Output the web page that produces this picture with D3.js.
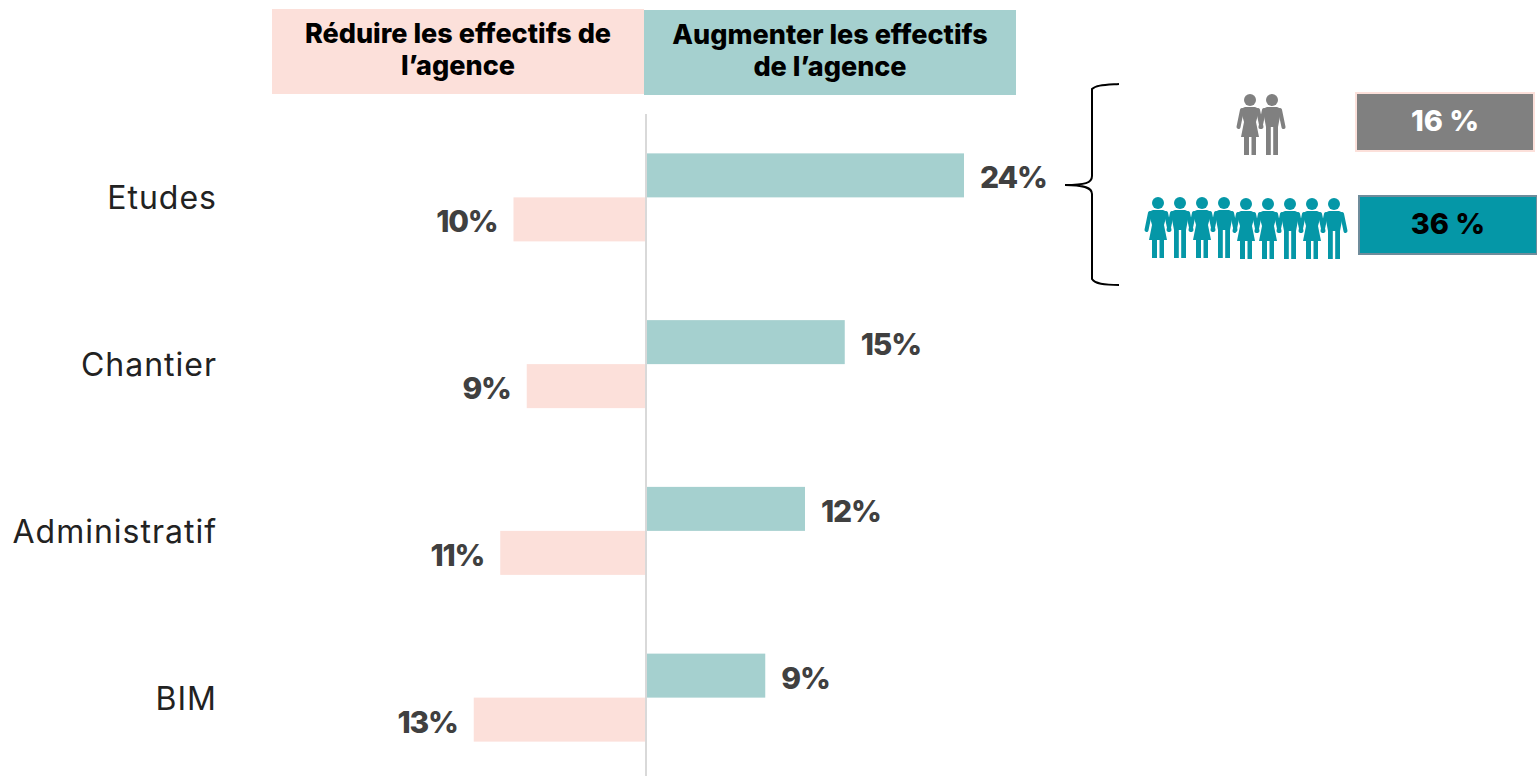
<!DOCTYPE html>
<html>
<head>
<meta charset="utf-8">
<script src="https://cdn.jsdelivr.net/npm/d3@7/dist/d3.min.js"></script>
<style>
  html, body { margin: 0; padding: 0; background: #fff; overflow: hidden; }
  text { font-family: Inter, "Noto Sans", sans-serif; }
</style>
</head>
<body>
<svg id="chart" width="1537" height="776"></svg>
<script>
const categories = ["Etudes", "Chantier", "Administratif", "BIM"]
const increase = [24, 15, 12, 9]
const reduce = [10, 9, 11, 13]
const headerLeft = ["Réduire les effectifs de", "l’agence"]
const headerRight = ["Augmenter les effectifs", "de l’agence"]
const couple = ["f", "m"]
const group = ["f", "m", "f", "m", "f", "f", "m", "f", "m"]
const summary = ["16 %", "36 %"]

const pink = "#fce0da", teal = "#a5d0cf", grey = "#808080", deep = "#0597a7", ink = "#404040"

const svg = d3.select("#chart")

// scales: 13.25 px per percentage point either side of the axis
const x = d3.scaleLinear().domain([0, 24]).range([646, 964])
const y = d3.scaleBand().domain(categories).range([114, 781]).paddingInner(0).paddingOuter(0)
const inner = d3.scaleBand().domain(["up", "down"]).range([0, 88])
const offset = (y.bandwidth() - 88) / 2

// header boxes
const headers = [
  {lines: headerLeft, x: 272, y: 9, w: 372, fill: pink},
  {lines: headerRight, x: 644, y: 10, w: 372, fill: teal}
]
headers.forEach(h => {
  svg.append("rect").attr("x", h.x).attr("y", h.y).attr("width", h.w).attr("height", 85).attr("fill", h.fill)
  svg.selectAll(null).data(h.lines).join("text")
    .attr("x", h.x + h.w / 2)
    .attr("y", (d, i) => h.y + 34 + i * 32)
    .attr("text-anchor", "middle")
    .attr("font-size", 27).attr("font-weight", 800).attr("fill", "#000")
    .text(d => d)
})

// bars
svg.selectAll(".up").data(categories).join("rect").attr("class", "up")
  .attr("x", x(0))
  .attr("y", d => y(d) + offset + inner("up"))
  .attr("width", (d, i) => x(increase[i]) - x(0))
  .attr("height", inner.bandwidth())
  .attr("fill", teal)

svg.selectAll(".down").data(categories).join("rect").attr("class", "down")
  .attr("x", (d, i) => x(-reduce[i]))
  .attr("y", d => y(d) + offset + inner("down"))
  .attr("width", (d, i) => x(0) - x(-reduce[i]))
  .attr("height", inner.bandwidth())
  .attr("fill", pink)

// centre axis
svg.append("line").attr("x1", x(0)).attr("x2", x(0)).attr("y1", 114).attr("y2", 776)
  .attr("stroke", "#d9d9d9").attr("stroke-width", 2)

// value labels
svg.selectAll(".lab-up").data(categories).join("text").attr("class", "lab-up")
  .attr("x", (d, i) => x(increase[i]) + 16)
  .attr("y", d => y(d) + offset + inner("up") + inner.bandwidth() / 2 + 13)
  .attr("font-size", 30).attr("font-weight", 800).attr("letter-spacing", -1.2).attr("fill", ink)
  .text((d, i) => increase[i] + "%")

svg.selectAll(".lab-down").data(categories).join("text").attr("class", "lab-down")
  .attr("x", (d, i) => x(-reduce[i]) - 16)
  .attr("y", d => y(d) + offset + inner("down") + inner.bandwidth() / 2 + 13)
  .attr("text-anchor", "end")
  .attr("font-size", 30).attr("font-weight", 800).attr("letter-spacing", -1.2).attr("fill", ink)
  .text((d, i) => reduce[i] + "%")

// category labels
svg.selectAll(".cat").data(categories).join("text").attr("class", "cat")
  .attr("x", 217)
  .attr("y", d => y(d) + y.bandwidth() / 2 + 12)
  .attr("text-anchor", "end")
  .attr("font-size", 32).attr("letter-spacing", 1).attr("fill", "#222")
  .text(d => d)

// brace
svg.append("path")
  .attr("d", "M1119,84 C1104,85 1096,85 1092,89 L1092,176 C1092,183 1085,185 1065,185 C1085,185 1092,188 1092,194 L1092,279 C1095,284 1104,285 1119,285")
  .attr("fill", "none").attr("stroke", "#000").attr("stroke-width", 2)

// people pictograms
function person(sel, kind, px, py, color) {
  const g = sel.append("g").attr("transform", `translate(${px},${py})`).attr("fill", color)
  g.append("circle").attr("cx", 0).attr("cy", 6).attr("r", 6)
  g.append("path").attr("fill", "none").attr("stroke", color).attr("stroke-width", 4).attr("stroke-linecap", "round")
    .attr("d", "M-8,16 L-11.5,33 M8,16 L11.5,33")
  if (kind === "f") {
    g.append("path").attr("d", "M-5,13 L5,13 Q9,14 9,17 L6,28 L9,43 L6,43 L6,61 L1.5,61 L1.5,43 L-1,43 L-1,61 L-6,61 L-6,43 L-9,43 L-6,28 L-9,17 Q-9,14 -5,13 Z")
  } else {
    g.append("path").attr("d", "M-5,13 L5,13 Q9,14 9,17 L6,33 L6,61 L1.2,61 L1.2,33 L-1.2,33 L-1.2,61 L-6,61 L-6,33 L-9,17 Q-9,14 -5,13 Z")
  }
}
couple.forEach((k, i) => person(svg, k, 1250 + i * 22, 94, grey))
group.forEach((k, i) => person(svg, k, 1158 + i * 22, i < 4 ? 197 : 198, deep))

// summary boxes
const boxes = [
  {label: summary[0], x: 1356, y: 93, w: 178, h: 58, fill: grey, stroke: pink, color: "#fff"},
  {label: summary[1], x: 1359, y: 196, w: 178, h: 58, fill: deep, stroke: "#6f8c9b", color: "#000"}
]
boxes.forEach(b => {
  svg.append("rect").attr("x", b.x).attr("y", b.y).attr("width", b.w).attr("height", b.h)
    .attr("fill", b.fill).attr("stroke", b.stroke).attr("stroke-width", 2)
  svg.append("text").attr("x", b.x + b.w / 2).attr("y", b.y + 38)
    .attr("text-anchor", "middle").attr("font-size", 29).attr("font-weight", 800).attr("fill", b.color)
    .text(b.label)
})
</script>
</body>
</html>
